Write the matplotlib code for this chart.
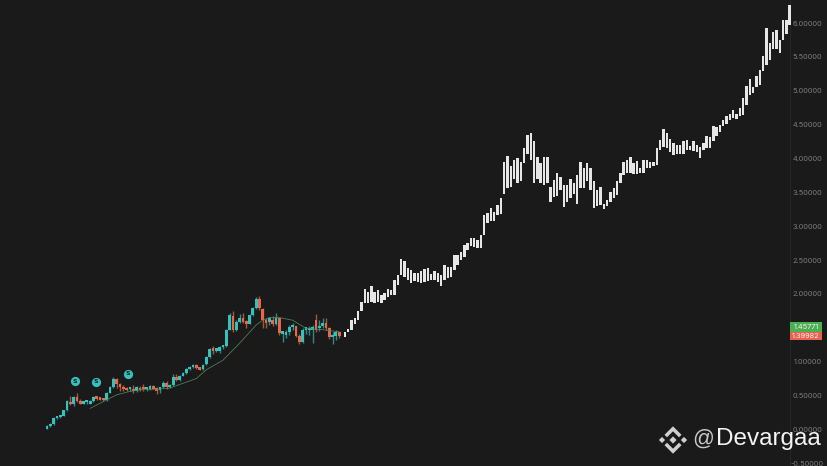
import numpy as np
import matplotlib
matplotlib.use("Agg")
import matplotlib.pyplot as plt
from matplotlib.patches import Polygon, Rectangle

# coloured candles
opens = [.02,.06,.09,.17,.19,.21,.29,.42,.38,.48,.43,.39,.41,.39,.43,.47,.46,.45,.44,.55,.63,.76,.68,.63,.61,.60,.61,.57,.61,.61,.60,.61,.65,.61,.59,.63,.70,.63,.66,.76,.74,.80,.84,.90,.93,.96,.92,
         .90,.97,1.08,1.18,1.17,1.17,1.22,1.24,1.48,1.68,1.48,1.60,1.65,1.60,1.57,1.70,1.80,1.93,1.78,1.62,1.60,1.63,1.57,1.65,1.42,1.40,1.45,1.52,1.53,1.39,1.30,1.48,1.47,1.48,1.63,1.50,1.53,1.58,1.50,1.37,1.39,1.44]
closes = [.06,.09,.18,.19,.21,.29,.43,.38,.48,.43,.39,.41,.42,.43,.48,.46,.45,.44,.55,.63,.76,.68,.63,.60,.59,.61,.57,.63,.59,.60,.61,.65,.61,.58,.63,.70,.63,.66,.78,.74,.80,.84,.90,.93,.96,.92,.89,
          .96,1.08,1.19,1.17,1.18,1.23,1.24,1.48,1.70,1.48,1.60,1.66,1.60,1.57,1.70,1.80,1.93,1.80,1.62,1.58,1.65,1.57,1.65,1.43,1.43,1.45,1.52,1.53,1.39,1.30,1.48,1.49,1.49,1.49,1.48,1.53,1.58,1.50,1.38,1.39,1.44,1.39]
highs = [.07,.10,.19,.20,.22,.30,.45,.50,.50,.54,.46,.43,.44,.45,.50,.49,.48,.47,.56,.65,.78,.77,.70,.66,.64,.63,.66,.65,.65,.68,.63,.67,.67,.63,.64,.72,.73,.68,.82,.82,.81,.85,.91,.94,.97,.97,.93,
         .97,1.09,1.21,1.24,1.20,1.24,1.25,1.49,1.72,1.76,1.62,1.71,1.73,1.63,1.71,1.81,1.97,1.98,1.80,1.66,1.67,1.69,1.73,1.66,1.46,1.47,1.55,1.58,1.54,1.41,1.50,1.52,1.53,1.55,1.71,1.62,1.65,1.65,1.52,1.44,1.47,1.45]
lows = [.01,.05,.08,.16,.18,.20,.28,.37,.36,.42,.38,.38,.39,.38,.42,.45,.44,.43,.43,.54,.62,.62,.58,.57,.57,.57,.55,.56,.57,.58,.58,.59,.60,.53,.55,.62,.61,.62,.65,.72,.72,.79,.83,.89,.92,.90,.88,
        .89,.96,1.07,1.12,1.15,1.13,1.20,1.23,1.47,1.44,1.46,1.58,1.58,1.50,1.56,1.69,1.78,1.77,1.50,1.50,1.55,1.53,1.55,1.40,1.30,1.36,1.40,1.48,1.37,1.27,1.28,1.42,1.40,1.28,1.44,1.46,1.50,1.47,1.35,1.27,1.33,1.36]

# white (projected) bars
white_high = [1.45,1.49,1.62,1.65,1.75,1.89,2.08,2.04,2.13,2.04,2.07,1.99,2.02,2.08,2.07,2.21,2.29,2.53,2.49,2.39,2.36,2.31,2.32,2.34,2.37,2.39,2.30,2.35,2.31,2.29,2.44,2.41,2.41,2.59,2.58,2.63,2.73,2.76,2.83,2.83,2.80,2.88,3.17,3.20,3.27,3.22,3.32,3.42,3.96,4.04,3.89,3.99,4.02,3.96,4.16,4.35,4.39,4.26,4.03,3.94,4.03,4.03,3.59,3.69,3.79,3.74,3.62,3.62,3.71,3.64,3.76,3.96,3.86,3.94,3.86,3.67,3.54,
              3.59,3.33,3.39,3.52,3.57,3.67,3.79,3.96,3.98,4.03,3.94,3.97,3.86,3.98,3.98,3.96,3.95,4.16,4.28,4.44,4.38,4.29,4.23,4.21,4.21,4.27,4.28,4.19,4.26,4.21,4.18,4.23,4.34,4.33,4.49,4.47,4.50,4.58,4.64,4.67,4.72,4.67,4.75,4.90,5.08,5.18,5.07,5.22,5.31,5.52,5.93,5.71,5.87,5.91,5.76,6.05,6.05,6.28]
white_low = [1.37,1.44,1.47,1.57,1.62,1.75,1.87,1.88,1.89,1.88,1.89,1.88,1.92,1.96,1.99,1.99,2.14,2.29,2.26,2.21,2.17,2.20,2.19,2.17,2.19,2.20,2.21,2.22,2.19,2.13,2.21,2.25,2.26,2.36,2.44,2.51,2.56,2.65,2.72,2.70,2.68,2.68,2.88,3.05,3.08,3.08,3.17,3.19,3.49,3.57,3.59,3.71,3.64,3.67,3.94,4.08,3.99,3.64,3.71,3.64,3.62,3.64,3.36,3.44,3.45,3.54,3.29,3.37,3.42,3.49,3.33,3.57,3.57,3.67,3.54,3.27,3.30,
             3.32,3.26,3.30,3.37,3.42,3.47,3.65,3.76,3.79,3.79,3.78,3.78,3.79,3.80,3.86,3.86,3.89,3.91,4.13,4.18,4.16,4.11,4.06,4.08,4.08,4.08,4.13,4.13,4.12,4.11,4.02,4.13,4.16,4.16,4.26,4.34,4.40,4.48,4.52,4.57,4.61,4.59,4.63,4.65,4.80,4.94,4.98,5.07,5.09,5.30,5.39,5.46,5.62,5.63,5.56,5.75,5.85,5.98]

# moving average
ma_index = [13,17,21,25,29,33,37,41,45,48,53,58,63,65,67,70,74,78,83,88]
ma_values = [.32,.42,.52,.57,.60,.60,.62,.69,.76,.89,1.03,1.28,1.55,1.62,1.66,1.66,1.62,1.50,1.48,1.45]

# signal badges
signal_index = [8.4,14.7,24.3]
signal_price = [.72,.71,.83]

tick_values = [6.0,5.5,5.0,4.5,4.0,3.5,3.0,2.5,2.0,1.0,0.5,0.0,-0.5]
tag_labels = ["1.45771","1.39982"]

BG="#1a1a1a"; TEAL="#35c2bd"; RED="#e8674c"; WHITE="#e6e6e6"

W,H=828,466
fig=plt.figure(figsize=(W/100,H/100),dpi=100,facecolor=BG)
ax=fig.add_axes([0,0,1,1],facecolor=BG)
step=3.32
ax.set_xlim(-47/step,(W-47)/step)
ax.set_ylim(-36/67.75,430/67.75)
ax.axis("off")

x=np.arange(len(opens))
o=np.array(opens);c=np.array(closes);hi=np.array(highs);lo=np.array(lows)
col=[TEAL if b>=a else RED for a,b in zip(o,c)]
wick=["#2a8c88" if b>=a else "#a8543f" for a,b in zip(o,c)]
ax.vlines(x,lo,hi,colors=wick,linewidth=1.0,zorder=2)
ax.bar(x,np.maximum(np.abs(c-o),0.035),bottom=np.minimum(o,c),width=0.82,color=col,linewidth=0,zorder=3)

xw=np.arange(len(white_high))+89.7
wh=np.array(white_high);wl=np.array(white_low)
ax.bar(xw,wh-wl,bottom=wl,width=0.72,color=WHITE,linewidth=0,zorder=3)

ax.plot(ma_index,ma_values,color="#4f8558",linewidth=0.55,zorder=4)

ax.scatter(signal_index,signal_price,s=44,color=TEAL,linewidth=0,zorder=5)
for a,b in zip(signal_index,signal_price):
    ax.text(a,b,"S",color=BG,fontsize=4.5,ha="center",va="center",fontweight="bold",zorder=6)

# price scale
def px(xp,yp):
    return xp/W,1-yp/H
ax.plot([790/W,790/W],[0,1],transform=ax.transAxes,color="#262626",linewidth=0.8,zorder=1)
for v in tick_values:
    ax.text(807.5/W,v,f"{v:.5f}",transform=ax.get_yaxis_transform(),color="#7c7c7c",
            fontsize=5.3,family="Inter",ha="center",va="center",zorder=2)

for (y0,y1,fc,lab) in [(322,332,"#4caf50",tag_labels[0]),(332,340,"#e8634f",tag_labels[1])]:
    ax.add_patch(Rectangle((790/W,1-y1/H),32/W,(y1-y0)/H,transform=ax.transAxes,facecolor=fc,edgecolor="none",zorder=6))
    xx,yy=px(806,(y0+y1)/2)
    ax.text(xx,yy,lab,transform=ax.transAxes,color="#f2f2f2",fontsize=5.3,family="Inter",ha="center",va="center",zorder=7)

# watermark logo
cx,cy=673,440
logo="#d0d0d0"
def diamond(dx,dy,r):
    pts=[(cx+dx-r,cy+dy),(cx+dx,cy+dy-r),(cx+dx+r,cy+dy),(cx+dx,cy+dy+r)]
    return [px(*p) for p in pts]
for d in [(0,0,3.6),(-11,0,3.1),(11,0,3.1)]:
    ax.add_patch(Polygon(diamond(*d),transform=ax.transAxes,facecolor=logo,edgecolor="none",zorder=8))
top=[(-8.5,-5.2),(0,-13.7),(8.5,-5.2),(6,-2.7),(0,-8.7),(-6,-2.7)]
for s in (1,-1):
    pts=[px(cx+a,cy+s*b) for a,b in top]
    ax.add_patch(Polygon(pts,transform=ax.transAxes,facecolor=logo,edgecolor="none",zorder=8))
xx,yy=px(692,439)
ax.text(xx,yy,"@",transform=ax.transAxes,color="#c9c9c9",fontsize=15.5,family="Liberation Sans",ha="left",va="center",zorder=8)
xx,yy=px(716.5,439)
ax.text(xx,yy,"Devargaa",transform=ax.transAxes,color="#f4f4f4",fontsize=17.5,family="Liberation Sans",ha="left",va="center",zorder=8)

fig.savefig("out.png",dpi=100,facecolor=BG)
